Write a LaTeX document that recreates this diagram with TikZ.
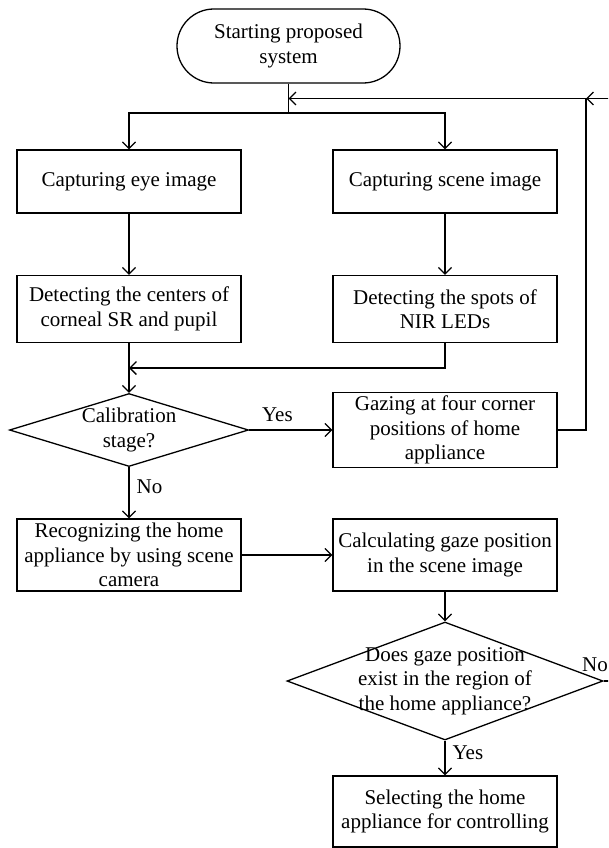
\documentclass[tikz,border=0pt]{standalone}
\usepackage{fontspec}
\setmainfont{Liberation Serif}
\usetikzlibrary{arrows.meta,shapes.geometric}
\begin{document}
\begin{tikzpicture}[x=1pt,y=-1pt,
  every node/.style={font=\fontsize{21}{24.5}\selectfont},
  stroke/.style={line width=1.3pt},
  box/.style={draw, stroke, rectangle, inner sep=0pt, align=center,
              minimum width=224pt, minimum height=#1},
  box/.default=67pt,
  terminal/.style={draw, stroke, rectangle, rounded corners=36.9pt,
                   inner sep=0pt, align=center,
                   minimum width=223pt, minimum height=74pt},
  decision/.style={draw, stroke, diamond, inner sep=0pt},
  flow/.style={stroke, -{Straight Barb[length=6.5pt,width=13pt,line width=1.3pt]}},
  plain/.style={stroke},
  tag/.style={inner sep=0pt}
]
\useasboundingbox (0,0) rectangle (608,848);
\clip (0,0) rectangle (608,848);

% process boxes
\node[terminal] (start) at (288.5,46) {Starting proposed\\system};
\node[box=63pt] (cap1) at (129,181.5) {Capturing eye image};
\node[box=63pt] (cap2) at (445,181.5) {Capturing scene image};
\node[box] (det1) at (129,309) {Detecting the centers of\\corneal SR and pupil};
\node[box] (det2) at (445,309) {Detecting the spots of\\NIR LEDs};
\node[decision, minimum width=239pt, minimum height=73pt,
      label={[align=center]center:Calibration\\stage?}] (cal) at (129,430) {};
\node[box=75pt] (gaze) at (445,430) {Gazing at four corner\\positions of home\\appliance};
\node[box=72pt] (recog) at (129,555) {Recognizing the home\\appliance by using scene\\camera};
\node[box=72pt] (calc) at (445,555) {Calculating gaze position\\in the scene image};
\node[decision, minimum width=316pt, minimum height=118pt,
      label={[align=center]center:Does gaze position\\exist in the region of\\the home appliance?}] (inreg) at (445,681) {};
\node[box=71pt] (sel) at (445,811.5) {Selecting the home\\appliance for controlling};

% junction points
\coordinate (split) at (288.5,113);
\coordinate (loopin) at (288.5,98.5);
\coordinate (loopcorner) at (586,98.5);
\coordinate (loopfar) at (630,98.5);
\coordinate (merge) at (129,368);
\coordinate (nofar) at (630,681);

% connectors
\draw[plain] (start.south) -- (split);
\draw[flow] (split) -| (cap1.north);
\draw[flow] (split) -| (cap2.north);
\draw[flow] (cap1) -- (det1);
\draw[flow] (cap2) -- (det2);
\draw[flow] (det1.south) -- (cal.north);
\draw[flow] (det2.south) |- (merge);
\draw[flow] (cal.east) -- node[tag, above=8pt, pos=0.34] (yes1) {Yes} (gaze.west);
\draw[plain] (gaze.east) -| (loopcorner);
\draw[flow] (loopcorner) -- (loopin);
\draw[flow] (loopfar) -- (loopcorner);
\draw[flow] (cal.south) -- node[tag, right=7pt, pos=0.38] (no1) {No} (recog.north);
\draw[flow] (recog) -- (calc);
\draw[flow] (calc.south) -- (inreg.north);
\draw[plain] (inreg.east) -- (nofar);
\node[tag, anchor=south] (no2) at (595,672) {No};
\draw[flow] (inreg.south) -- node[tag, right=7pt, pos=0.35] (yes2) {Yes} (sel.north);
\end{tikzpicture}
\end{document}
